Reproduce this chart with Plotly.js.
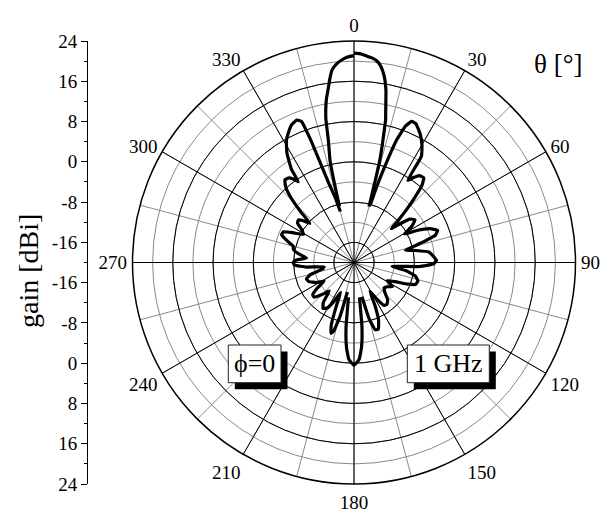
<!DOCTYPE html>
<html>
<head>
<meta charset="utf-8">
<script src="https://cdn.plot.ly/plotly-3.0.1.min.js"></script>
<style>html,body{margin:0;padding:0;background:#fff}#chart{width:601px;height:516px}</style>
</head>
<body>
<div id="chart"></div>
<script>
// ---- data ----
const thetaDeg = [0,2,3.5,5,6.5,7.5,8.5,9.6,10.5,11.1,11.8,12.5,13.3,13.8,14.2,14.5,14.8,15.0,15.3,15.8,16.7,17.6,19.2,20.7,22.3,24,27.1,30,32.4,33.2,35,37,39.5,41.5,43.3,45,46.5,47.8,49.5,52,55,58,60.5,63,66,69,71.5,74,76.5,79,82,85.5,88.5,91,93.5,96,99,102.5,106,109.5,112,115,118.5,122,126,130,134,138,142,145,148,151,154,157,160,162.5,165,167,168.5,171,173,175,177,180,183,185,187,189,190.5,192.5,194.5,196.5,198,200,202,204,207,210.5,214,217.5,221,225,229,232,235,238,242,247,251,254.5,258,261.5,264.5,267.5,270,272.5,275.5,279,282,285,288,291,293.5,296,299,302,305,307.5,309.5,311.5,313.5,315.8,318,320.1,322.5,324.5,325.4,326.2,328.5,331,333,335.5,338.1,339.6,340.5,341.3,342.3,343.8,345,345.3,345.5,345.8,346.2,346.7,347.5,348.2,348.9,349.5,350.4,351.5,352.5,353.5,355,356.5,358,360];
const gainDbi = [21.6,21.45,21.1,20.8,20.3,19.6,18.5,16.8,14.8,12.9,10.8,9.0,5.0,2.8,0.6,-3,-6,-8.5,null,-8,-4,-0.7,5.8,9,10.3,10.2,8.8,7,5.0,-0.5,0.6,1.6,1.8,0.3,-2.7,-5.5,-8,-10,-8.5,-6,-5.2,-6.5,-8.5,-6,-3.5,-2.2,-3,-6.5,-9.5,-7.5,-5,-4.2,-3.6,-4.2,-7,-12.4,-9.5,-7.5,-6.8,-7,-8.5,-11,-12.5,-11,-11.8,-12.2,-11.5,-10,-9.4,-9.6,-11.5,-13.5,-10.5,-7.5,-5.9,-6,-8.5,-13,null,-13,-7,-3,-0.7,0.4,-0.7,-3,-7,-13,null,-14,-9,-5.8,-5.2,-6.8,-10.5,-13.5,-11.5,-9.5,-9,-10,-12.5,-11,-9.5,-9.6,-11,-13,-11.5,-10.3,-10,-11,-13.5,-14,-10.5,-8.2,-7.9,-8.5,-10.5,-8.8,-7.7,-7.5,-6,-4.6,-4.7,-6.5,-8.5,-7.8,-6.3,-6.1,-7,-8.3,-5.5,-2,0.3,1.4,1.2,0.2,-0.5,2.4,5.5,7.7,8.8,10,10.5,9.9,6,1,-3.3,-6.5,-9.5,null,-8.5,-6,-3,0.6,2.8,5.0,9.0,10.8,12.9,14.8,16.8,18.5,19.6,20.3,20.8,21.1,21.45,21.6];

const angleTicks = [0,30,60,90,120,150,180,210,240,270,300,330];
const angleLabels = ['0','30','60','90','120','150','180','210','240','270','300','330'];
const gainRange = [-20, 24];
const majorRings = [-16,-8,0,8,16];
const sideTickVals = [44,36,28,20,12,4,-4,-12,-20,-28,-36,-44];
const sideTickText = ['24','16','8','0','-8','-16','-16','-8','0','8','16','24'];

// ---- layout helpers (pixels -> paper) ----
const W = 601, H = 516;
const px = x => x / W;
const py = y => 1 - y / H;
const SERIF = 'Liberation Serif, Times New Roman, serif';

const polarDomain = {x: [px(132.5), px(575.5)], y: [py(484), py(41)]};

const traces = [
  {type: 'scatterpolar', subplot: 'polar', r: [], theta: [], hoverinfo: 'skip', showlegend: false},
  {type: 'scatter', x: [], y: [], xaxis: 'x', yaxis: 'y', hoverinfo: 'skip', showlegend: false},
  {type: 'scatterpolar', subplot: 'polar2', r: gainDbi, theta: thetaDeg, mode: 'lines',
   connectgaps: false, line: {color: '#000', width: 3.2, shape: 'spline', smoothing: 0.35}, showlegend: false}
];

function box(x0, y0, x1, y1) {
  return [
    {type: 'rect', xref: 'paper', yref: 'paper', x0: px(x0 + 6.5), x1: px(x1 + 6.5), y0: py(y0 + 6.5), y1: py(y1 + 6.5),
     fillcolor: '#000', line: {width: 0}, layer: 'above'},
    {type: 'rect', xref: 'paper', yref: 'paper', x0: px(x0), x1: px(x1), y0: py(y0), y1: py(y1),
     fillcolor: '#fff', line: {color: '#222', width: 1}, layer: 'above'}
  ];
}

const layout = {
  width: W, height: H,
  margin: {l: 0, r: 0, t: 0, b: 0, pad: 0},
  paper_bgcolor: '#fff', plot_bgcolor: 'rgba(0,0,0,0)',
  showlegend: false,
  font: {family: SERIF, size: 19, color: '#000'},
  polar: {
    domain: polarDomain, bgcolor: '#fff',
    radialaxis: {range: gainRange, tickmode: 'linear', tick0: -20, dtick: 4, showticklabels: false, ticks: '',
                 showline: false, gridcolor: '#8a8a8a', gridwidth: 1},
    angularaxis: {direction: 'clockwise', rotation: 90, tickmode: 'linear', dtick: 15, showticklabels: false,
                  ticks: '', showline: false, gridcolor: '#8a8a8a', gridwidth: 1}
  },
  polar2: {
    domain: polarDomain, bgcolor: 'rgba(0,0,0,0)',
    radialaxis: {range: gainRange, tickmode: 'array', tickvals: majorRings, showticklabels: false, ticks: '',
                 showline: false, gridcolor: '#000', gridwidth: 1},
    angularaxis: {direction: 'clockwise', rotation: 90, tickmode: 'array', tickvals: angleTicks, ticktext: angleLabels,
                  showline: true, linecolor: '#000', linewidth: 1.5, gridcolor: '#000', gridwidth: 1,
                  ticks: 'outside', ticklen: 1, tickcolor: 'rgba(0,0,0,0)',
                  tickfont: {family: SERIF, size: 19, color: '#000'}}
  },
  xaxis: {domain: [px(88), px(92)], range: [0, 1], visible: false, fixedrange: true},
  yaxis: {domain: [py(484), py(41)], range: [-44, 44], tickmode: 'array', tickvals: sideTickVals, ticktext: sideTickText,
          showline: true, linecolor: '#000', linewidth: 1, ticks: 'outside', ticklen: 6, tickcolor: '#000',
          minor: {tick0: 0, dtick: 4, ticks: 'outside', ticklen: 3, tickcolor: '#000', showgrid: false},
          showgrid: false, zeroline: false, tickfont: {family: SERIF, size: 19, color: '#000'}, fixedrange: true},
  shapes: [].concat(box(228.3, 345, 281, 382.7), box(407.3, 345, 489.3, 382.7)),
  annotations: [
    {xref: 'paper', yref: 'paper', x: px(558), y: py(64), text: 'θ [°]', showarrow: false,
     font: {family: SERIF, size: 27, color: '#000'}, xanchor: 'center', yanchor: 'middle'},
    {xref: 'paper', yref: 'paper', x: px(28), y: py(271), text: 'gain [dBi]', showarrow: false, textangle: -90,
     font: {family: SERIF, size: 28, color: '#000'}, xanchor: 'center', yanchor: 'middle'},
    {xref: 'paper', yref: 'paper', x: px(254.6), y: py(363.8), text: 'ϕ=0', showarrow: false,
     font: {family: SERIF, size: 26, color: '#000'}, xanchor: 'center', yanchor: 'middle'},
    {xref: 'paper', yref: 'paper', x: px(448.3), y: py(363.8), text: '1 GHz', showarrow: false,
     font: {family: SERIF, size: 26, color: '#000'}, xanchor: 'center', yanchor: 'middle'}
  ]
};

Plotly.newPlot('chart', traces, layout, {staticPlot: true, displayModeBar: false});
</script>
</body>
</html>
